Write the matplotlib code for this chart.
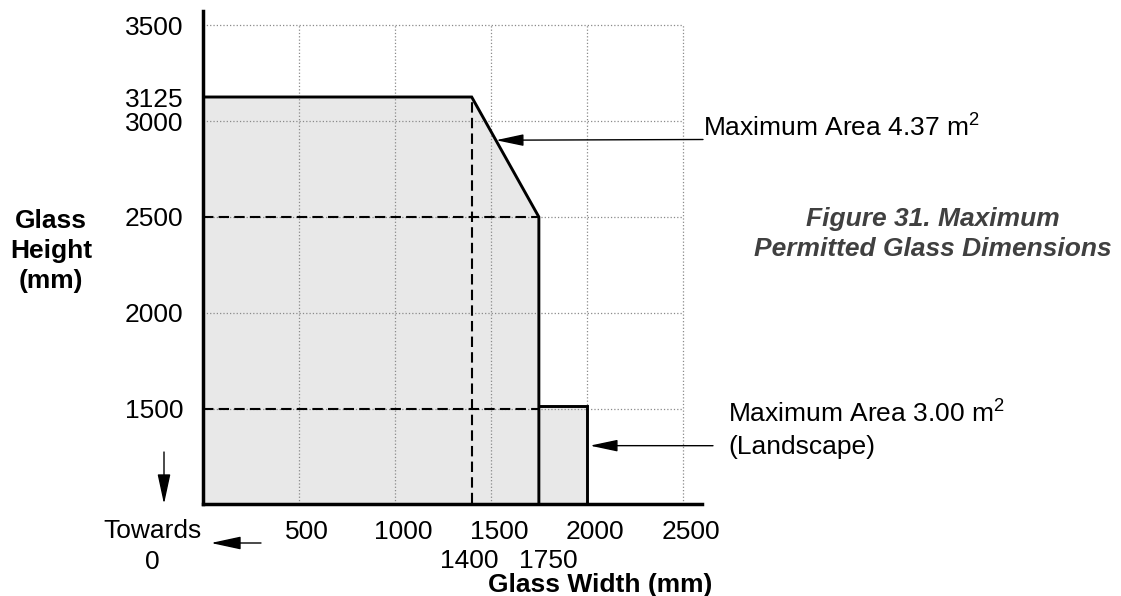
import matplotlib
matplotlib.use('Agg')
import matplotlib.pyplot as plt

plt.rcParams['font.family'] = ['Liberation Sans', 'DejaVu Sans']
plt.rcParams['mathtext.fontset'] = 'custom'
plt.rcParams['mathtext.rm'] = 'Liberation Sans'

# portrait outline (width, height) in mm
portrait_w = [0, 1400, 1750, 1750]
portrait_h = [3125, 3125, 2500, 0]
# landscape outline
landscape_w = [1750, 2000, 2000]
landscape_h = [1515, 1515, 0]

x_ticks = [500, 1000, 1500, 2000, 2500]
x_extra = [1400, 1750]
y_ticks = [1500, 2000, 2500, 3000, 3125, 3500]
grid_y = [1500, 2000, 2500, 3000, 3500]

W, H = 1121, 596
FS = 19


def px(x, y):
    # pixel position (from top left) -> figure fraction
    return (x / W, 1 - y / H)


fig = plt.figure(figsize=(W / 100, H / 100), dpi=100)
ax = fig.add_axes([203 / W, 1 - 504 / H, (702 - 203) / W, (504 - 11) / H])
ax.set_xlim(0, 2600)
ax.set_ylim(1005, 3573)

# grid, bounded to the 0..2500 x 1000..3500 box
ax.vlines(x_ticks, 1005, 3500, colors='#8a8a8a', linestyles=':', lw=0.9, zorder=2)
ax.hlines(grid_y, 0, 2500, colors='#8a8a8a', linestyles=':', lw=0.9, zorder=2)

ax.fill(portrait_w + [0], portrait_h + [0], color='#e8e8e8', lw=0, zorder=1)
ax.fill([landscape_w[0]] + landscape_w, [0] + landscape_h, color='#e8e8e8', lw=0, zorder=1)
ax.plot(portrait_w, portrait_h, color='k', lw=2.1, zorder=4, solid_joinstyle='miter')
ax.plot(landscape_w, landscape_h, color='k', lw=2.1, zorder=4, solid_joinstyle='miter')

# dashed guides
dash = dict(color='k', lw=1.5, linestyle=(0, (5, 2.5)), zorder=3)
ax.plot([portrait_w[1], portrait_w[1]], [0, portrait_h[1]], **dash)
ax.plot([0, portrait_w[2]], [portrait_h[2], portrait_h[2]], **dash)
ax.plot([0, portrait_w[2]], [1500, 1500], **dash)

for s in ['top', 'right']:
    ax.spines[s].set_visible(False)
for s in ['left', 'bottom']:
    ax.spines[s].set_linewidth(2.5)
    ax.spines[s].set_zorder(5)

ax.set_yticks(y_ticks, [str(v) for v in y_ticks])
ax.tick_params(axis='y', length=0, pad=14, labelsize=FS)
ax.set_xticks([])

for v in x_ticks:
    ax.annotate(str(v), xy=(v, 0), xycoords=('data', 'axes fraction'),
                xytext=(6, -20), textcoords='offset points',
                ha='center', va='center', fontsize=FS)
ax.annotate(str(x_extra[0]), xy=(x_extra[0], 0), xycoords=('data', 'axes fraction'),
            xytext=(-2, -41), textcoords='offset points',
            ha='center', va='center', fontsize=FS)
ax.annotate(str(x_extra[1]), xy=(x_extra[1], 0), xycoords=('data', 'axes fraction'),
            xytext=(6.5, -41), textcoords='offset points',
            ha='center', va='center', fontsize=FS)

# axis titles
fig.text(*px(51, 251), 'Glass\nHeight\n(mm)', ha='center', va='center',
         fontsize=FS, fontweight='bold', linespacing=1.33)
fig.text(*px(600, 585), 'Glass Width (mm)', ha='center', va='center',
         fontsize=FS, fontweight='bold')
fig.text(*px(152, 531), 'Towards', ha='center', va='center', fontsize=FS)
fig.text(*px(152, 562), '0', ha='center', va='center', fontsize=FS)

fig.text(*px(933, 234), 'Figure 31. Maximum\nPermitted Glass Dimensions',
         ha='center', va='center', fontsize=FS, fontweight='bold',
         fontstyle='italic', color='#404040', linespacing=1.33)

# area annotations
fig.text(*px(703, 136), r'Maximum Area 4.37 m$^\mathregular{2}$', ha='left',
         va='baseline', fontsize=FS)
fig.text(*px(728, 422), r'Maximum Area 3.00 m$^\mathregular{2}$', ha='left',
         va='baseline', fontsize=FS)
fig.text(*px(728, 454), '(Landscape)', ha='left', va='baseline', fontsize=FS)

arrow = dict(arrowstyle='-|>,head_length=1.7,head_width=0.36', mutation_scale=10,
             color='k', lw=1.0, shrinkA=0, shrinkB=0)
slope_y = 2900
slope_x = portrait_w[1] + (portrait_h[1] - slope_y) / (portrait_h[1] - portrait_h[2]) * (portrait_w[2] - portrait_w[1])
ax.annotate('', xy=(slope_x, slope_y), xytext=px(703, 139.5),
            textcoords='figure fraction', arrowprops=arrow, annotation_clip=False)
ax.annotate('', xy=(landscape_w[1] + 16, 1309), xytext=px(713, 445.7),
            textcoords='figure fraction', arrowprops=arrow, annotation_clip=False)

# "towards 0" arrows
arrow2 = dict(arrowstyle='-|>,head_length=1.85,head_width=0.4', mutation_scale=10,
              color='k', lw=1.0, shrinkA=0, shrinkB=0)
fig.add_artist(matplotlib.patches.FancyArrowPatch(px(164, 452), px(164, 504),
               transform=fig.transFigure, **arrow2))
fig.add_artist(matplotlib.patches.FancyArrowPatch(px(261, 543), px(211, 543),
               transform=fig.transFigure, **arrow2))

fig.savefig('out.png', dpi=100)
